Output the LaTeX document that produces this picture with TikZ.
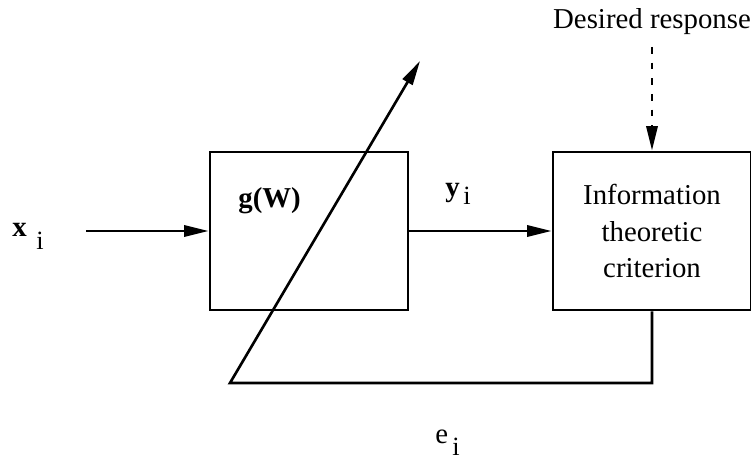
\documentclass[tikz,border=0pt]{standalone}
\usepackage{fontspec}
\setmainfont{Liberation Serif}
\usepackage{tikz}
\usetikzlibrary{positioning,arrows.meta}

\begin{document}
\begin{tikzpicture}[
    x=0.02cm, y=-0.02cm,
    font=\fontsize{16.4}{20.5}\selectfont,
    box/.style={
        rectangle, draw=black, line width=1.5pt,
        minimum width=3.96cm, minimum height=3.16cm,
        align=center, inner sep=0pt
    },
    arrow/.style={-{Triangle[length=14pt, width=6.4pt]}, line width=1.5pt},
    lbl/.style={inner sep=0pt, anchor=base west},
    sub/.style={inner sep=0pt, anchor=base west, font=\fontsize{15}{18}\selectfont}
]
\useasboundingbox (0,0) rectangle (751,459);

% Adaptive system block
\node[box] (sys) at (309,231) {};
\node[lbl, font=\fontsize{16.4}{20.5}\selectfont\bfseries] (gw) at (238,208) {g(W)};

% Criterion block
\node[box] (crit) at (652,231) {Information\\theoretic\\criterion};

% Input label
\node[lbl, font=\fontsize{16.4}{20.5}\selectfont\bfseries] (xin) at (12,237) {x};
\node[sub] (xsub) at (36,250) {i};
\coordinate (xstart) at (86,231);

% Output label
\node[lbl, font=\fontsize{16.4}{20.5}\selectfont\bfseries] (yout) at (445,197) {y};
\node[sub] (ysub) at (463,205) {i};

% Desired response
\node[inner sep=0pt] (des) at (652,22) {Desired response};
\coordinate (desend) at (652,47);

% Error label
\node[lbl] (err) at (435,443) {e};
\node[sub] (esub) at (452,455) {i};

% Arrows: input -> system -> criterion
\draw[arrow] (xstart) -- (sys.west);
\draw[arrow] (sys.east) -- (crit.west);
\draw[arrow, dash pattern=on 3.8pt off 5.1pt] (desend) -- (crit.north);

% Feedback path and adaptation arrow
\coordinate (fbcorner) at (230,383);
\coordinate (adapt) at (420,61);
\draw[arrow, line join=miter] (crit.south) -- (crit.south |- fbcorner) -- (fbcorner) -- (adapt);

\end{tikzpicture}
\end{document}
